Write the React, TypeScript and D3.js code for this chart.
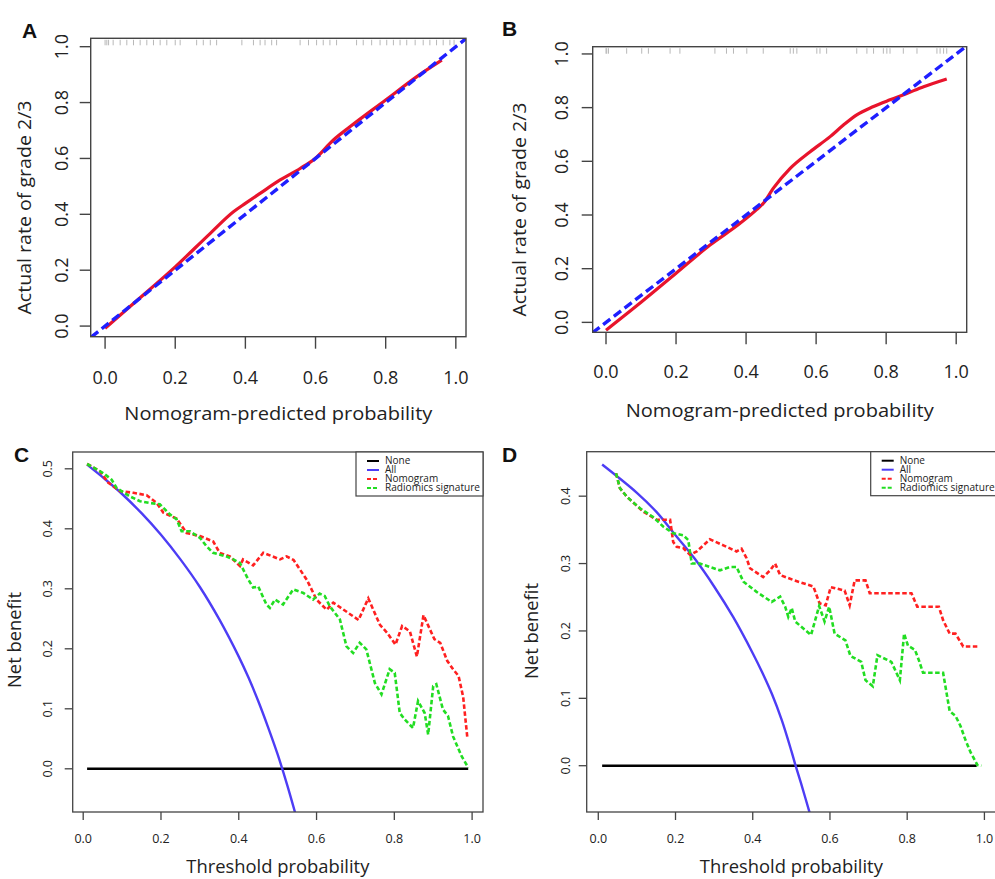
import React from "react";
import * as d3 from "d3";

const FONT = "'Open Sans', 'DejaVu Sans', Arial, sans-serif";

// ticks
const calTicks = [0, 0.2, 0.4, 0.6, 0.8, 1.0];
const dcaXTicks = [0, 0.2, 0.4, 0.6, 0.8, 1.0];
const dcaYTicksC = [0, 0.1, 0.2, 0.3, 0.4, 0.5];
const dcaYTicksD = [0, 0.1, 0.2, 0.3, 0.4];

// A: calibration curve (predicted, actual)
const calCurveA: [number, number][] = [
  [0.0, -0.008], [0.081, 0.081], [0.2, 0.212], [0.3, 0.332], [0.366, 0.409],
  [0.4, 0.439], [0.442, 0.475], [0.499, 0.523], [0.556, 0.564], [0.599, 0.6],
  [0.651, 0.666], [0.699, 0.714], [0.8, 0.809], [0.889, 0.893], [0.96, 0.952],
];
// rug of predicted probabilities, panel A
const rugA = [
  0.0, 0.005, 0.01, 0.023, 0.043, 0.062, 0.081, 0.1, 0.119, 0.138, 0.157, 0.176,
  0.2, 0.214, 0.261, 0.28, 0.3, 0.318, 0.39, 0.423, 0.442, 0.456, 0.475, 0.489,
  0.556, 0.58, 0.603, 0.622, 0.641, 0.66, 0.717, 0.736, 0.76, 0.784, 0.803,
  0.822, 0.841, 0.86, 0.884, 0.907, 0.926, 0.945, 0.964, 0.983, 0.995,
];

// B: calibration curve
const calCurveB: [number, number][] = [
  [0.0, -0.029], [0.1, 0.075], [0.2, 0.183], [0.297, 0.288], [0.383, 0.369],
  [0.43, 0.42], [0.45, 0.445], [0.478, 0.5], [0.526, 0.574], [0.583, 0.636],
  [0.64, 0.692], [0.678, 0.735], [0.716, 0.773], [0.764, 0.804], [0.811, 0.829],
  [0.859, 0.853], [0.907, 0.878], [0.973, 0.907],
];
const rugB = [
  0.0, 0.002, 0.007, 0.059, 0.102, 0.121, 0.183, 0.211, 0.311, 0.344, 0.364,
  0.402, 0.449, 0.526, 0.535, 0.545, 0.602, 0.611, 0.63, 0.716, 0.745, 0.764,
  0.792, 0.802, 0.811, 0.849, 0.888, 0.945, 0.954, 0.964, 0.973,
];

// C: decision curves (threshold, net benefit)
const noneC: [number, number][] = [[0.01, 0], [0.99, 0]];
const allC: [number, number][] = [
  [0.01, 0.507], [0.05, 0.486], [0.1, 0.458], [0.15, 0.426], [0.2, 0.39],
  [0.25, 0.349], [0.3, 0.303], [0.35, 0.249], [0.4, 0.187], [0.425, 0.152],
  [0.45, 0.113], [0.475, 0.07], [0.5, 0.024], [0.525, -0.028], [0.55, -0.085],
];
const nomogramC: [number, number][] = [
  [0.01, 0.508], [0.043, 0.496], [0.064, 0.477], [0.094, 0.463], [0.129, 0.46],
  [0.163, 0.456], [0.189, 0.443], [0.206, 0.427], [0.24, 0.417], [0.266, 0.393],
  [0.3, 0.388], [0.334, 0.379], [0.351, 0.36], [0.377, 0.354], [0.403, 0.338],
  [0.411, 0.349], [0.437, 0.339], [0.463, 0.36], [0.506, 0.349], [0.523, 0.354],
  [0.541, 0.348], [0.575, 0.315], [0.6, 0.282], [0.626, 0.265], [0.643, 0.277],
  [0.708, 0.248], [0.733, 0.284], [0.763, 0.24], [0.781, 0.227], [0.803, 0.207],
  [0.82, 0.238], [0.84, 0.229], [0.858, 0.187], [0.875, 0.256], [0.903, 0.216],
  [0.918, 0.21], [0.936, 0.18], [0.952, 0.165], [0.965, 0.155], [0.977, 0.12],
  [0.988, 0.05],
];
const radiomicsC: [number, number][] = [
  [0.01, 0.508], [0.051, 0.493], [0.073, 0.482], [0.086, 0.468], [0.12, 0.454],
  [0.146, 0.446], [0.171, 0.443], [0.197, 0.441], [0.223, 0.424], [0.24, 0.416],
  [0.253, 0.396], [0.274, 0.396], [0.3, 0.385], [0.317, 0.371], [0.334, 0.36],
  [0.368, 0.354], [0.386, 0.349], [0.403, 0.343], [0.424, 0.316], [0.437, 0.302],
  [0.45, 0.304], [0.471, 0.274], [0.48, 0.268], [0.493, 0.282], [0.514, 0.274],
  [0.54, 0.299], [0.566, 0.293], [0.591, 0.282], [0.608, 0.292], [0.621, 0.288],
  [0.634, 0.271], [0.66, 0.249], [0.677, 0.204], [0.694, 0.193], [0.711, 0.21],
  [0.728, 0.199], [0.75, 0.143], [0.767, 0.124], [0.788, 0.166], [0.801, 0.16],
  [0.814, 0.093], [0.827, 0.082], [0.848, 0.068], [0.861, 0.113], [0.878, 0.093],
  [0.887, 0.057], [0.9, 0.138], [0.908, 0.141], [0.925, 0.099], [0.938, 0.088],
  [0.951, 0.054], [0.973, 0.021], [0.99, 0.002],
];

// D: decision curves
const noneD: [number, number][] = [[0.01, 0], [0.98, 0]];
const allD: [number, number][] = [
  [0.01, 0.447], [0.1, 0.405], [0.15, 0.377], [0.2, 0.342], [0.25, 0.307],
  [0.3, 0.266], [0.35, 0.22], [0.4, 0.167], [0.425, 0.138], [0.45, 0.106],
  [0.475, 0.068], [0.5, 0.022], [0.51, 0.002], [0.525, -0.026], [0.55, -0.075],
];
const nomogramD: [number, number][] = [
  [0.046, 0.434], [0.056, 0.412], [0.074, 0.399], [0.117, 0.377], [0.151, 0.365],
  [0.186, 0.365], [0.194, 0.332], [0.203, 0.325], [0.22, 0.323], [0.238, 0.313],
  [0.255, 0.318], [0.272, 0.327], [0.289, 0.336], [0.324, 0.327], [0.358, 0.318],
  [0.371, 0.322], [0.384, 0.308], [0.393, 0.293], [0.427, 0.28], [0.445, 0.29],
  [0.458, 0.3], [0.471, 0.283], [0.508, 0.275], [0.557, 0.266], [0.573, 0.241],
  [0.589, 0.238], [0.602, 0.265], [0.638, 0.26], [0.651, 0.238], [0.664, 0.275],
  [0.692, 0.275], [0.703, 0.256], [0.811, 0.256], [0.826, 0.236], [0.882, 0.236],
  [0.893, 0.216], [0.91, 0.196], [0.925, 0.196], [0.945, 0.177], [0.988, 0.177],
];
const radiomicsD: [number, number][] = [
  [0.046, 0.434], [0.056, 0.412], [0.074, 0.399], [0.108, 0.382], [0.142, 0.369],
  [0.168, 0.355], [0.194, 0.345], [0.22, 0.342], [0.233, 0.335], [0.242, 0.3],
  [0.263, 0.3], [0.289, 0.295], [0.315, 0.29], [0.341, 0.295], [0.358, 0.295],
  [0.376, 0.273], [0.41, 0.258], [0.449, 0.243], [0.471, 0.251], [0.484, 0.236],
  [0.492, 0.221], [0.501, 0.234], [0.51, 0.214], [0.551, 0.194], [0.572, 0.237],
  [0.586, 0.214], [0.598, 0.236], [0.612, 0.196], [0.64, 0.186], [0.653, 0.163],
  [0.681, 0.154], [0.692, 0.127], [0.711, 0.118], [0.723, 0.164], [0.759, 0.154],
  [0.781, 0.127], [0.792, 0.196], [0.802, 0.178], [0.82, 0.172], [0.83, 0.157],
  [0.841, 0.138], [0.893, 0.138], [0.91, 0.081], [0.925, 0.074], [0.938, 0.059],
  [0.951, 0.038], [0.964, 0.02], [0.982, 0.001], [0.992, 0.0],
];

const legendNames = ["None", "All", "Nomogram", "Radiomics signature"];
const legendColors = ["#000000", "#4d3df5", "#ff2020", "#22dd22"];
const legendDashed = [false, false, true, true];

type Box = {
  left: number; right: number; top: number; bottom: number;
  xDom: [number, number]; yDom: [number, number];
};

const fmt = d3.format(".1f");

function CalPanel(props: {
  id: string; box: Box; curve: [number, number][]; rug: number[];
  letter: string; letterX: number; letterY: number;
  xLabelY: number; xTickY: number; yLabelX: number; yTickX: number;
}) {
  const { id, box, curve, rug } = props;
  const x = d3.scaleLinear().domain(box.xDom).range([box.left, box.right]);
  const y = d3.scaleLinear().domain(box.yDom).range([box.bottom, box.top]);
  const line = d3.line<[number, number]>().x(d => x(d[0])).y(d => y(d[1])).curve(d3.curveMonotoneX);
  const diag: [number, number][] = [[-0.1, -0.1], [1.1, 1.1]];
  const cx = (box.left + box.right) / 2;
  const cy = (box.top + box.bottom) / 2;
  return (
    <g>
      <clipPath id={id}>
        <rect x={box.left} y={box.top} width={box.right - box.left} height={box.bottom - box.top} />
      </clipPath>
      {rug.map((r, i) => (
        <line key={i} x1={x(r)} x2={x(r)} y1={box.top + 1.5} y2={box.top + 7} stroke="#b8b8b8" strokeWidth={1} />
      ))}
      <path d={line(curve) || ""} fill="none" stroke="#e8142c" strokeWidth={3.2} />
      <path d={d3.line()(diag.map(d => [x(d[0]), y(d[1])])) || ""} fill="none" stroke="#1f1fff"
        strokeWidth={3.4} strokeDasharray="9,4.5" clipPath={`url(#${id})`} />
      <rect x={box.left} y={box.top} width={box.right - box.left} height={box.bottom - box.top}
        fill="none" stroke="#444" strokeWidth={1.4} />
      {calTicks.map(t => (
        <g key={"x" + t}>
          <line x1={x(t)} x2={x(t)} y1={box.bottom} y2={box.bottom + 12} stroke="#444" strokeWidth={1.4} />
          <text x={x(t)} y={props.xTickY} textAnchor="middle" fontSize={18} fill="#222">{fmt(t)}</text>
        </g>
      ))}
      {calTicks.map(t => (
        <g key={"y" + t}>
          <line x1={box.left} x2={box.left - 11} y1={y(t)} y2={y(t)} stroke="#444" strokeWidth={1.4} />
          <text transform={`translate(${props.yTickX},${y(t)}) rotate(-90)`} textAnchor="middle"
            dy="0.35em" fontSize={18} fill="#222">{fmt(t)}</text>
        </g>
      ))}
      <text x={cx} y={props.xLabelY} textAnchor="middle" fontSize={19} fill="#222"
        textLength={308} lengthAdjust="spacingAndGlyphs">Nomogram-predicted probability</text>
      <text transform={`translate(${props.yLabelX},${cy + 20}) rotate(-90)`} textAnchor="middle" dy="0.35em"
        fontSize={19} fill="#222" textLength={214} lengthAdjust="spacingAndGlyphs">Actual rate of grade 2/3</text>
      <text x={props.letterX} y={props.letterY} fontSize={21} fontWeight="bold" fill="#111"
        fontFamily="'Liberation Sans', Arial, sans-serif">{props.letter}</text>
    </g>
  );
}

function DcaPanel(props: {
  id: string; box: Box; yTicks: number[];
  none: [number, number][]; all: [number, number][];
  nomogram: [number, number][]; radiomics: [number, number][];
  letter: string; letterX: number; letterY: number;
  xLabelY: number; xTickY: number; yLabelX: number; yLabelY: number; yTickX: number;
  legendX: number;
}) {
  const { id, box } = props;
  const x = d3.scaleLinear().domain(box.xDom).range([box.left, box.right]);
  const y = d3.scaleLinear().domain(box.yDom).range([box.bottom, box.top]);
  const lin = d3.line<[number, number]>().x(d => x(d[0])).y(d => y(d[1]));
  const smooth = d3.line<[number, number]>().x(d => x(d[0])).y(d => y(d[1])).curve(d3.curveCatmullRom);
  const cx = (box.left + box.right) / 2;
  const lgTop = box.top;
  return (
    <g>
      <clipPath id={id}>
        <rect x={box.left} y={box.top} width={box.right - box.left} height={box.bottom - box.top} />
      </clipPath>
      <g clipPath={`url(#${id})`}>
        <path d={lin(props.none) || ""} fill="none" stroke="#000" strokeWidth={2.4} />
        <path d={smooth(props.all) || ""} fill="none" stroke="#4d3df5" strokeWidth={2.4} />
        <path d={lin(props.nomogram) || ""} fill="none" stroke="#ff2020" strokeWidth={2.6} strokeDasharray="4.5,2.5" />
        <path d={lin(props.radiomics) || ""} fill="none" stroke="#22dd22" strokeWidth={2.6} strokeDasharray="4.5,2.5" />
      </g>
      <rect x={box.left} y={box.top} width={box.right - box.left} height={box.bottom - box.top}
        fill="none" stroke="#444" strokeWidth={1.3} />
      <rect x={props.legendX} y={lgTop} width={127} height={44} fill="#fff" stroke="#444" strokeWidth={1.2} />
      {legendNames.map((n, i) => (
        <g key={n}>
          <line x1={props.legendX + 11} x2={props.legendX + 23} y1={lgTop + 9 + i * 9} y2={lgTop + 9 + i * 9}
            stroke={legendColors[i]} strokeWidth={2} strokeDasharray={legendDashed[i] ? "4,2" : undefined} />
          <text x={props.legendX + 29} y={lgTop + 9 + i * 9} dy="0.33em" fontSize={10} fill="#222"
            textLength={i === 3 ? 95 : undefined} lengthAdjust="spacingAndGlyphs">{n}</text>
        </g>
      ))}
      {dcaXTicks.map(t => (
        <g key={"x" + t}>
          <line x1={x(t)} x2={x(t)} y1={box.bottom} y2={box.bottom + 8} stroke="#444" strokeWidth={1.3} />
          <text x={x(t)} y={props.xTickY} textAnchor="middle" fontSize={12.5} fill="#222">{fmt(t)}</text>
        </g>
      ))}
      {props.yTicks.map(t => (
        <g key={"y" + t}>
          <line x1={box.left} x2={box.left - 8} y1={y(t)} y2={y(t)} stroke="#444" strokeWidth={1.3} />
          <text transform={`translate(${props.yTickX},${y(t)}) rotate(-90)`} textAnchor="middle"
            dy="0.35em" fontSize={12.5} fill="#222">{fmt(t)}</text>
        </g>
      ))}
      <text x={cx} y={props.xLabelY} textAnchor="middle" fontSize={18} fill="#222"
        textLength={183} lengthAdjust="spacingAndGlyphs">Threshold probability</text>
      <text transform={`translate(${props.yLabelX},${props.yLabelY}) rotate(-90)`} textAnchor="middle" dy="0.35em"
        fontSize={19} fill="#222" textLength={96} lengthAdjust="spacingAndGlyphs">Net benefit</text>
      <text x={props.letterX} y={props.letterY} fontSize={21} fontWeight="bold" fill="#111"
        fontFamily="'Liberation Sans', Arial, sans-serif">{props.letter}</text>
    </g>
  );
}

const boxA: Box = { left: 90.7, right: 466, top: 38.3, bottom: 336.7, xDom: [-0.041, 1.029], yDom: [-0.038, 1.03] };
const boxB: Box = { left: 592.7, right: 966.7, top: 46.7, bottom: 332.3, xDom: [-0.038, 1.03], yDom: [-0.037, 1.027] };
const boxC: Box = { left: 72.7, right: 483, top: 452, bottom: 812, xDom: [-0.027, 1.028], yDom: [-0.072, 0.528] };
const boxD: Box = { left: 586.7, right: 996, top: 451.7, bottom: 812, xDom: [-0.03, 1.03], yDom: [-0.0687, 0.466] };

export default function App() {
  return (
    <svg width={995} height={879} style={{ position: "absolute", left: 0, top: 0, background: "#fff" }}
      fontFamily={FONT}>
      <rect width={995} height={879} fill="#fff" />
      <CalPanel id="clipA" box={boxA} curve={calCurveA} rug={rugA} letter="A" letterX={22} letterY={38}
        xLabelY={420} xTickY={384} yLabelX={24} yTickX={62} />
      <CalPanel id="clipB" box={boxB} curve={calCurveB} rug={rugB} letter="B" letterX={502} letterY={36}
        xLabelY={417} xTickY={378} yLabelX={519} yTickX={562} />
      <DcaPanel id="clipC" box={boxC} yTicks={dcaYTicksC} none={noneC} all={allC} nomogram={nomogramC}
        radiomics={radiomicsC} letter="C" letterX={14} letterY={462} xLabelY={873} xTickY={843}
        yLabelX={14} yLabelY={640} yTickX={48} legendX={356} />
      <DcaPanel id="clipD" box={boxD} yTicks={dcaYTicksD} none={noneD} all={allD} nomogram={nomogramD}
        radiomics={radiomicsD} letter="D" letterX={502} letterY={462} xLabelY={873} xTickY={843}
        yLabelX={531} yLabelY={631} yTickX={566} legendX={870.7} />
    </svg>
  );
}
